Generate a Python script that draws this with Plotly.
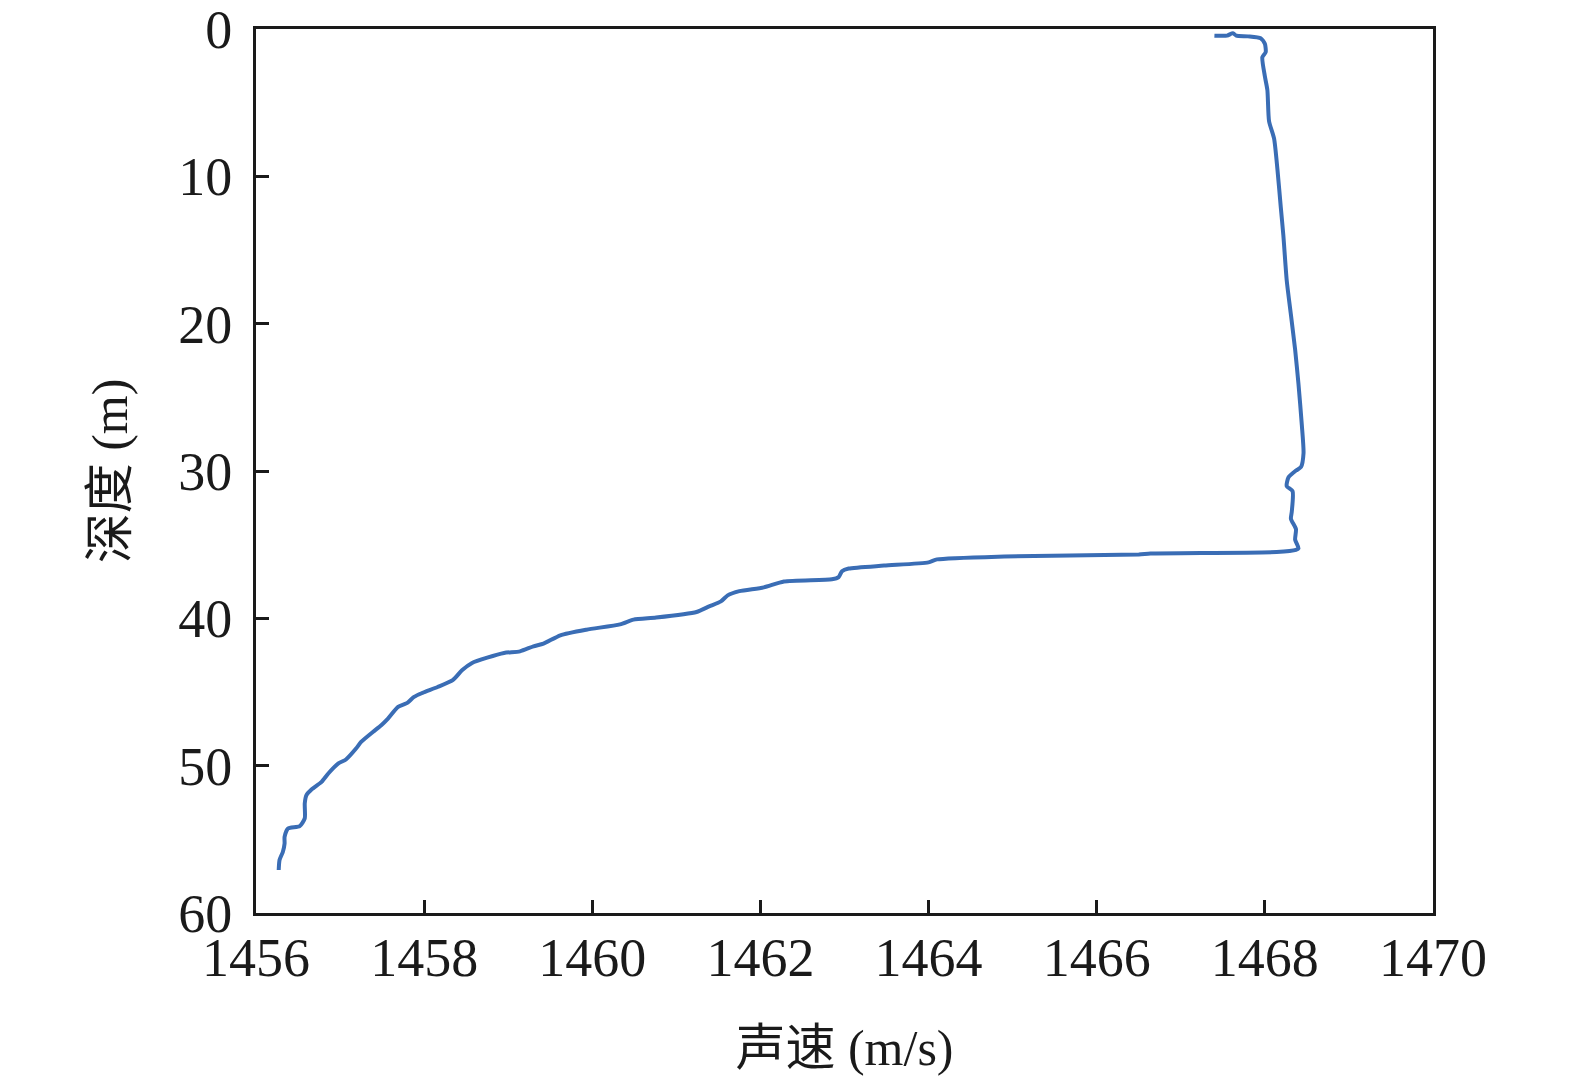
import plotly.graph_objects as go

# Sound speed profile (m/s) vs depth (m)
speed = [1467.40, 1467.55, 1467.62, 1467.66, 1467.80, 1467.95, 1468.00, 1468.01, 1467.97,
         1468.00, 1468.03, 1468.05, 1468.11, 1468.15, 1468.19, 1468.22, 1468.26, 1468.31,
         1468.36, 1468.40, 1468.44, 1468.46, 1468.43, 1468.37, 1468.28, 1468.26, 1468.33,
         1468.32, 1468.31, 1468.37, 1468.36, 1468.40, 1468.37, 1468.14, 1466.64, 1466.50,
         1464.90, 1464.10, 1464.00, 1463.47, 1463.05, 1462.97, 1462.93, 1462.85, 1462.28,
         1462.04, 1461.75, 1461.61, 1461.53, 1461.39, 1461.24, 1460.76, 1460.49, 1460.33,
         1459.93, 1459.62, 1459.42, 1459.30, 1459.14, 1458.95, 1458.75, 1458.57, 1458.45,
         1458.34, 1458.16, 1457.98, 1457.88, 1457.80, 1457.69, 1457.57, 1457.49, 1457.39,
         1457.25, 1457.19, 1457.07, 1456.98, 1456.86, 1456.78, 1456.66, 1456.60, 1456.58,
         1456.58, 1456.52, 1456.38, 1456.34, 1456.34, 1456.32, 1456.28, 1456.27]
depth = [0.45, 0.45, 0.28, 0.45, 0.50, 0.63, 1.00, 1.57, 1.92,
         3.21, 4.15, 6.26, 7.44, 9.55, 12.13, 14.01, 17.06, 19.40,
         21.76, 24.10, 26.90, 28.79, 29.73, 29.97, 30.44, 31.02, 31.38,
         32.78, 33.25, 33.95, 34.66, 35.25, 35.36, 35.50, 35.60, 35.66,
         35.80, 36.00, 36.20, 36.42, 36.62, 36.80, 37.20, 37.35, 37.50,
         37.90, 38.15, 38.44, 38.85, 39.19, 39.57, 39.95, 40.09, 40.41,
         40.77, 41.15, 41.72, 41.90, 42.24, 42.35, 42.67, 43.03, 43.53,
         44.20, 44.66, 45.06, 45.33, 45.74, 46.01, 46.80, 47.25, 47.71,
         48.39, 48.84, 49.58, 49.85, 50.53, 51.10, 51.62, 52.00, 52.56,
         53.58, 54.10, 54.26, 54.83, 55.28, 55.84, 56.40, 57.08]

x_ticks = [1456, 1458, 1460, 1462, 1464, 1466, 1468, 1470]
y_ticks = [0, 10, 20, 30, 40, 50, 60]

FONT = "Liberation Serif, Noto Sans CJK SC, serif"

fig = go.Figure()
fig.add_trace(go.Scatter(x=speed, y=depth, mode="lines",
                         line=dict(color="#3A6DB5", width=4, shape="spline", smoothing=0.6)))

axis_common = dict(showline=True, linecolor="#1a1a1a", linewidth=3, mirror=True,
                   ticks="inside", ticklen=13, tickwidth=3, tickcolor="#1a1a1a",
                   showgrid=False, zeroline=False, automargin=False,
                   ticklabeloverflow="allow",
                   tickfont=dict(family=FONT, size=54, color="#1a1a1a"))

fig.update_layout(
    width=1575, height=1088,
    paper_bgcolor="white", plot_bgcolor="white",
    showlegend=False,
    margin=dict(l=248, r=150, t=21, b=183),
    xaxis=dict(range=[1456, 1470], tickvals=x_ticks, ticklabelstandoff=-5,
               title=dict(text="声速 (m/s)", font=dict(family=FONT, size=50, color="#1a1a1a"),
                          standoff=44),
               **axis_common),
    yaxis=dict(range=[60, 0], tickvals=y_ticks, ticklabelstandoff=10,
               title=dict(text="深度 (m)", font=dict(family=FONT, size=50, color="#1a1a1a"),
                          standoff=35),
               **axis_common),
)

fig.write_html("out.html")
